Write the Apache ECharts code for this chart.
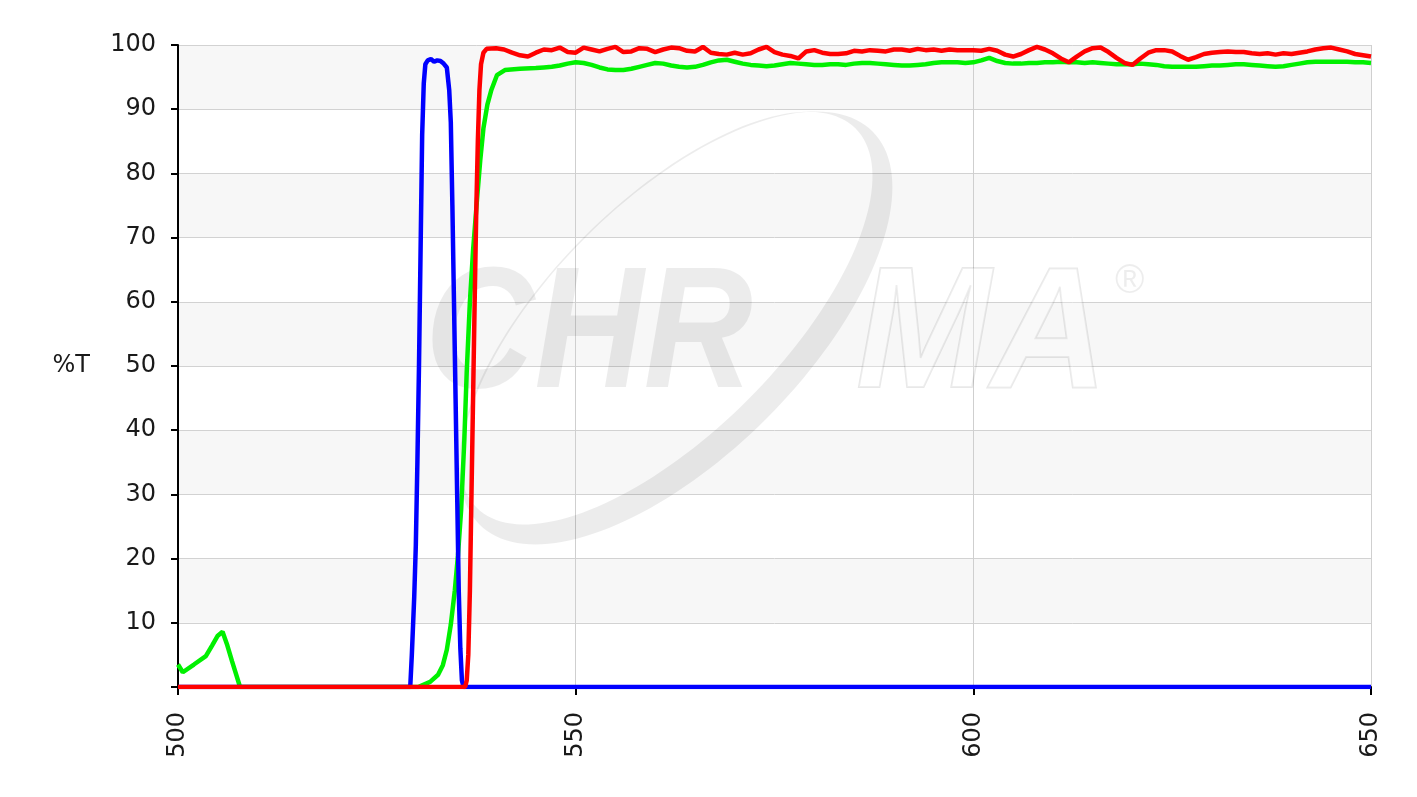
<!DOCTYPE html>
<html><head><meta charset="utf-8">
<script src="https://cdn.jsdelivr.net/npm/echarts@6/dist/echarts.min.js"></script>
<style>html,body{margin:0;padding:0;background:#fff}#c{width:1417px;height:797px}</style>
</head><body><div id="c"></div>
<script>
// ---- Data (wavelength nm, %T) ----
const blueNm = [500, 529.2, 529.4, 529.7, 529.9, 530.1, 530.3, 530.5, 530.7, 530.9, 531.1, 531.4, 531.8, 532.2, 532.6, 533.0, 533.4, 533.8, 534.1, 534.3, 534.5, 534.7, 534.9, 535.1, 535.3, 535.5, 535.7, 535.9, 650];
const blueT  = [0, 0, 5, 14, 22, 35, 50, 68, 86, 94, 97, 97.6, 97.8, 97.4, 97.6, 97.5, 97.1, 96.5, 93, 88, 75, 60, 45, 30, 15, 6, 1, 0, 0];

const greenNmRise = [500, 500.6, 502, 503.5, 504.3, 505, 505.6, 506.2, 506.8, 507.3, 507.8, 530.2, 531.7, 532.7, 533.3, 533.8, 534.3, 534.8, 535.2, 535.6, 536.0, 536.3, 536.7, 537.1, 537.6, 538.0, 538.4, 538.9, 539.4, 540.1, 541.1, 543.0, 545.0];
const greenTRise  = [3.5, 2.3, 3.5, 4.8, 6.5, 8.0, 8.6, 6.5, 4.0, 2.0, 0, 0, 0.8, 1.9, 3.4, 5.8, 9.7, 15, 20.5, 27.6, 38.5, 49, 60, 68, 76, 82, 87, 90.7, 93, 95.3, 96.1, 96.3, 96.4];
const greenFlatStart = 546; // 1 nm steps
const greenTFlat = [96.5, 96.6, 96.8, 97.1, 97.3, 97.2, 96.9, 96.5, 96.2, 96.1,
  96.1, 96.3, 96.6, 96.9, 97.2, 97.1, 96.8, 96.6, 96.5, 96.6,
  96.9, 97.3, 97.6, 97.7, 97.4, 97.1, 96.9, 96.8, 96.7, 96.8,
  97.0, 97.2, 97.1, 97.0, 96.9, 96.9, 97.0, 97.0, 96.9, 97.1,
  97.2, 97.2, 97.1, 97.0, 96.9, 96.8, 96.8, 96.9, 97.0, 97.2,
  97.3, 97.3, 97.3, 97.2, 97.3, 97.6, 98.0, 97.5, 97.2, 97.1,
  97.1, 97.2, 97.2, 97.3, 97.3, 97.4, 97.3, 97.3, 97.2, 97.3,
  97.2, 97.1, 97.0, 97.0, 97.0, 97.1, 97.0, 96.9, 96.7, 96.6,
  96.6, 96.6, 96.6, 96.7, 96.8, 96.8, 96.9, 97.0, 97.0, 96.9,
  96.8, 96.7, 96.6, 96.7, 96.9, 97.1, 97.3, 97.4, 97.4, 97.4,
  97.4, 97.4, 97.3, 97.3, 97.2];

const redNmRise = [500, 536.1, 536.3, 536.5, 536.7, 536.9, 537.1, 537.3, 537.5, 537.7, 537.9, 538.1, 538.4, 538.8];
const redTRise  = [0, 0, 1, 5, 15, 30, 45, 60, 74, 85, 93, 97, 98.8, 99.4];
const redFlatStart = 539; // 1 nm steps
const redTFlat = [99.4, 99.5, 99.3, 98.8, 98.4, 98.2, 98.8, 99.3, 99.2, 99.6,
  98.9, 98.8, 99.6, 99.3, 99.0, 99.4, 99.7, 98.9, 99.0, 99.5,
  99.4, 98.9, 99.3, 99.6, 99.5, 99.1, 99.0, 99.7, 98.8, 98.6,
  98.5, 98.8, 98.5, 98.7, 99.3, 99.7, 98.9, 98.5, 98.3, 97.9,
  99.0, 99.2, 98.8, 98.6, 98.6, 98.7, 99.1, 99.0, 99.2, 99.1,
  99.0, 99.3, 99.3, 99.1, 99.4, 99.2, 99.3, 99.1, 99.3, 99.2,
  99.2, 99.2, 99.1, 99.4, 99.1, 98.5, 98.2, 98.6, 99.2, 99.7,
  99.3, 98.7, 97.9, 97.3, 98.2, 99.0, 99.5, 99.6, 98.9, 98.0,
  97.2, 96.9, 97.9, 98.8, 99.2, 99.2, 99.0, 98.3, 97.7, 98.1,
  98.6, 98.8, 98.9, 99.0, 98.9, 98.9, 98.7, 98.6, 98.7, 98.5,
  98.7, 98.6, 98.8, 99.0, 99.3, 99.5, 99.6, 99.3, 99.0, 98.6,
  98.4, 98.2];

const xTicks = [500, 550, 600, 650];
const yTicks = [10, 20, 30, 40, 50, 60, 70, 80, 90, 100];

// ---- build series data ----
function zip(xs, ys) { return xs.map((x, i) => [x, ys[i]]); }
function flat(start, ys) { return ys.map((y, i) => [start + i, y]); }
const blueData = zip(blueNm, blueT);
const greenData = zip(greenNmRise, greenTRise).concat(flat(greenFlatStart, greenTFlat));
const redData = zip(redNmRise, redTRise).concat(flat(redFlatStart, redTFlat));

// ---- watermark swoosh (decoration) ----
function ellipsePts(cx, cy, a, b, th, rev) {
  const pts = [], N = 160, c = Math.cos(th), s = Math.sin(th);
  for (let i = 0; i <= N; i++) {
    const t = (rev ? (N - i) : i) / N * Math.PI * 2;
    const u = a * Math.cos(t), v = b * Math.sin(t);
    pts.push([cx + u * c + v * s, cy - u * s + v * c]);
  }
  return pts;
}
const th = Math.PI / 4;
const sh = 14;
const swoosh = ellipsePts(676, 328, 278, 128, th, false)
  .concat(ellipsePts(676 - sh * Math.sin(th), 328 - sh * Math.cos(th), 268, 128 - sh + 1.5, th, true));

const FONT = 'DejaVu Sans';
const chart = echarts.init(document.getElementById('c'), null, { renderer: 'canvas' });
chart.setOption({
  animation: false,
  backgroundColor: '#ffffff',
  grid: { left: 178, right: 46, top: 45, bottom: 110, containLabel: false },
  xAxis: {
    type: 'value', min: 500, max: 650, interval: 50,
    axisLine: { show: true, onZero: false, lineStyle: { color: '#000', width: 2 } },
    axisTick: { show: true, inside: false, length: 8, lineStyle: { color: '#000', width: 2 } },
    axisLabel: { rotate: 90, margin: 25, fontSize: 24, fontFamily: FONT, color: '#1a1a1a',
      formatter: v => xTicks.includes(v) ? String(v) : '' },
    splitLine: { show: true, lineStyle: { color: '#cfcfcf', width: 1 } }
  },
  yAxis: {
    type: 'value', min: 0, max: 100, interval: 10,
    name: '%T', nameLocation: 'middle', nameRotate: 0, nameGap: 88,
    nameTextStyle: { fontSize: 24, fontFamily: FONT, color: '#1a1a1a', padding: [16, 0, 0, 0] },
    axisLine: { show: true, onZero: false, lineStyle: { color: '#000', width: 2 } },
    axisTick: { show: true, inside: false, length: 7, lineStyle: { color: '#000', width: 2 } },
    axisLabel: { margin: 22, fontSize: 24, fontFamily: FONT, color: '#1a1a1a',
      formatter: v => yTicks.includes(v) ? String(v) : '' },
    splitLine: { show: true, lineStyle: { color: '#d2d2d2', width: 1 } },
    splitArea: { show: true, areaStyle: { color: ['#ffffff', '#f7f7f7'] } }
  },
  graphic: [
    { type: 'polygon', z: 1, silent: true, shape: { points: swoosh },
      style: { fill: 'rgba(0,0,0,0.075)' } },
    { type: 'text', z: 1, silent: true, x: 425, y: 426, scaleX: 0.88,
      style: { text: 'CHR', font: 'italic bold 172px "Liberation Sans"', fill: 'rgba(0,0,0,0.075)',
        verticalAlign: 'bottom' } },
    { type: 'text', z: 1, silent: true, x: 856, y: 426, scaleX: 0.94,
      style: { text: 'MA', font: 'italic bold 172px "Liberation Sans"', fill: 'rgba(255,255,255,0.25)',
        stroke: 'rgba(0,0,0,0.09)', lineWidth: 2, verticalAlign: 'bottom' } },
    { type: 'text', z: 1, silent: true, x: 1115, y: 262,
      style: { text: '\u00AE', font: '40px "Liberation Sans"', fill: 'rgba(0,0,0,0.07)' } }
  ],
  series: [
    { name: 'green', type: 'line', data: greenData, showSymbol: false, z: 3,
      lineStyle: { color: '#00f000', width: 4.5 }, itemStyle: { color: '#00f000' } },
    { name: 'blue', type: 'line', data: blueData, showSymbol: false, z: 4,
      lineStyle: { color: '#0000ff', width: 4.5 }, itemStyle: { color: '#0000ff' } },
    { name: 'red', type: 'line', data: redData, showSymbol: false, z: 5,
      lineStyle: { color: '#ff0000', width: 4.5 }, itemStyle: { color: '#ff0000' } }
  ]
});
</script></body></html>
